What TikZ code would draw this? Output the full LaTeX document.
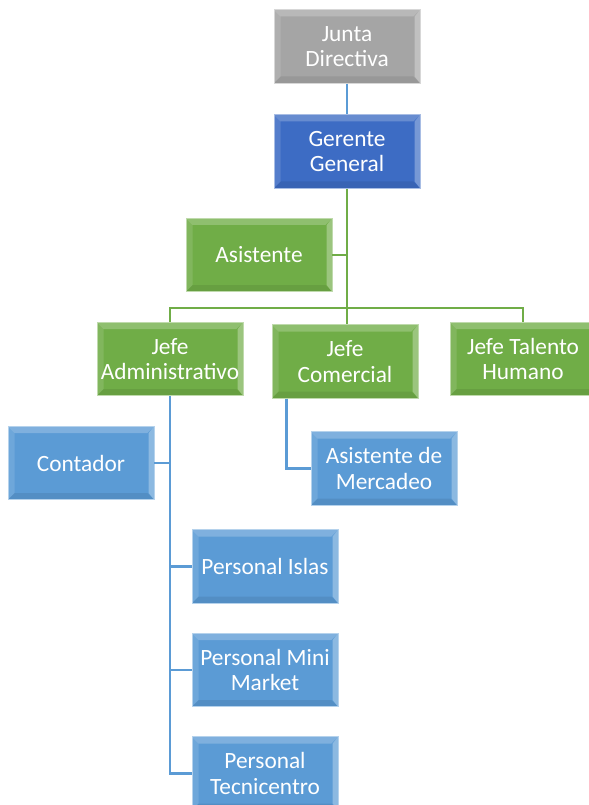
\documentclass[tikz,border=0pt]{standalone}
\usepackage{fontspec}
\setmainfont{Carlito}
\usepackage{xcolor}
\usetikzlibrary{positioning, calc}

\definecolor{jdgray}{HTML}{A5A5A5}
\definecolor{ggblue}{HTML}{3D6CC4}
\definecolor{okgreen}{HTML}{70AD47}
\definecolor{skyblue}{HTML}{5B9BD5}

\begin{document}
\begin{tikzpicture}[x=0.75pt, y=-0.75pt,
    every node/.style={font=\fontsize{17.5}{19}\selectfont, text=white, align=center},
    box/.style={rectangle, minimum width=109.5pt, minimum height=55pt, inner sep=0pt,
        fill=#1, draw=white!55!#1, line width=0.6pt,
        path picture={
            \fill[white, opacity=0.22] (path picture bounding box.north west) -- (path picture bounding box.north east)
                -- ([xshift=-5pt,yshift=-5pt]path picture bounding box.north east) -- ([xshift=5pt,yshift=-5pt]path picture bounding box.north west) -- cycle;
            \fill[white, opacity=0.12] (path picture bounding box.north west) -- ([xshift=5pt,yshift=-5pt]path picture bounding box.north west)
                -- ([xshift=5pt,yshift=5pt]path picture bounding box.south west) -- (path picture bounding box.south west) -- cycle;
            \fill[black, opacity=0.08] (path picture bounding box.south west) -- (path picture bounding box.south east)
                -- ([xshift=-5pt,yshift=5pt]path picture bounding box.south east) -- ([xshift=5pt,yshift=5pt]path picture bounding box.south west) -- cycle;
            \fill[white, opacity=0.30] (path picture bounding box.north east) -- (path picture bounding box.south east)
                -- ([xshift=-4pt,yshift=5pt]path picture bounding box.south east) -- ([xshift=-4pt,yshift=-5pt]path picture bounding box.north east) -- cycle;
        }},
    lineg/.style={draw=okgreen, line width=2pt},
    lineb/.style={draw=skyblue, line width=2pt}]

    \useasboundingbox (0,0) rectangle (588,805);

    % direccion
    \node[box=jdgray]  (jd)    at (347,46.5)  {Junta\\Directiva};
    \node[box=ggblue]  (gg)    at (347,151.5) {Gerente\\General};
    \node[box=okgreen] (asis)  at (259,255)   {Asistente};

    % jefaturas
    \node[box=okgreen] (jadm)  at (170,359)   {Jefe\\Administrativo};
    \node[box=okgreen] (jcom)  at (345,361.5) {Jefe\\Comercial};
    \node[box=okgreen] (jth)   at (523,359)   {Jefe Talento\\Humano};

    % personal
    \node[box=skyblue] (cont)  at (81,463)    {Contador};
    \node[box=skyblue] (amerc) at (384,468.5) {Asistente de\\Mercadeo};
    \node[box=skyblue] (pisl)  at (265,566.5) {Personal Islas};
    \node[box=skyblue] (pmm)   at (265,670)   {Personal Mini\\Market};
    \node[box=skyblue] (ptec)  at (265,773.5) {Personal\\Tecnicentro};

    \coordinate (bus) at (347,308);

    % conectores
    \draw[lineb] (jd) -- (gg);
    \draw[lineg] (gg.south) -- (bus);
    \draw[lineg] (asis.east) -- (asis.east -| bus);
    \draw[lineg] (jadm.north) |- (bus) -| (jth.north);
    \draw[lineg] (bus) -- (bus |- jcom.north);

    \draw[lineb] (jadm.south) -- (jadm.south |- ptec.west) -- (ptec.west);
    \draw[lineb] (cont.east) -- (cont.east -| jadm.south);
    \draw[lineb] (pisl.west) -- (pisl.west -| jadm.south);
    \draw[lineb] (pmm.west) -- (pmm.west -| jadm.south);
    \draw[lineb] ([xshift=11pt]jcom.south west) |- (amerc.west);
\end{tikzpicture}
\end{document}
